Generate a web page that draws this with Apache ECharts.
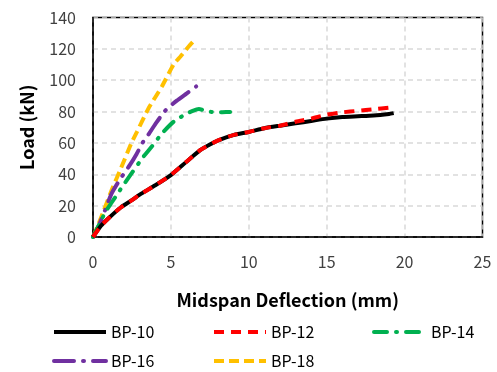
<!DOCTYPE html>
<html><head><meta charset="utf-8">
<script src="https://cdn.jsdelivr.net/npm/echarts@6/dist/echarts.min.js"></script>
<style>html,body{margin:0;padding:0;background:#fff}#c{width:497px;height:372px}</style>
</head><body><div id="c"></div>
<script>
const seriesNames = ['BP-10','BP-12','BP-14','BP-16','BP-18'];
const bp10 = [[0,0],[0.5,7],[1,12],[1.8,19],[2.5,23.5],[3,27],[4,33],[5,39.5],[6,48],[6.9,55.5],[7.5,59],[8,61.5],[9,65],[10,67],[11,69.4],[12,71],[13,72.5],[14,74],[15,75.5],[16,76.5],[17,77],[18,77.5],[19,78.5],[19.3,79]];
const bp12 = [[0,0],[0.5,7],[1,12],[1.8,19],[2.5,23.5],[3,27],[4,33],[5,39.5],[6,48],[6.9,55.5],[7.5,59],[8,61.5],[9,65],[10,67],[11,69.4],[12,71],[13,73.5],[14,75.5],[15,78],[16,79.5],[17,80.5],[18,81.5],[19,82.5],[19.4,83]];
const bp14 = [[0,0],[0.4,8],[0.8,16],[1.2,22],[1.51,26.6],[1.94,33],[2.54,41.5],[3.22,51],[3.76,57.5],[4.42,66],[5.17,73.5],[5.92,78.2],[6.4,80.5],[6.8,81.6],[7.3,80.3],[7.84,79.5],[8.3,79.6],[8.8,79.7]];
const bp16 = [[0,0],[0.4,8],[0.77,17],[1.19,27.7],[1.73,36.7],[2.37,46],[2.8,53],[3.22,60.7],[3.6,66],[4,72],[4.63,80.5],[5.38,87],[6,91.5],[6.62,96]];
const bp18 = [[0,0],[0.3,7],[0.66,16],[1.2,30],[1.8,44],[2.47,60],[2.82,67],[3.56,82],[4.42,96],[5.17,110],[5.6,115],[6.1,121],[6.56,126]];
const xTicks = [0,5,10,15,20,25];
const yTicks = [0,20,40,60,80,100,120,140];

const font = '"Noto Sans CJK KR","Noto Sans",sans-serif';
const chart = echarts.init(document.getElementById('c'));
const styles = [
  {color:'#000000', type:'solid', cap:'butt'},
  {color:'#ff0000', type:[10,7], cap:'butt'},
  {color:'#00b050', type:[13,9,1,9], cap:'round'},
  {color:'#7030a0', type:[20,9,1,9], cap:'round'},
  {color:'#ffc000', type:[10,5], cap:'butt'}
];
const datas = [bp10,bp12,bp14,bp16,bp18];
const legendPos = [[52,324],[212,324],[372,324],[52,353],[212,353]];
const opt = {
  animation:false,
  grid:{left:93, top:17.5, width:389.5, height:219.5, show:true, borderColor:'#000', borderWidth:1.5, containLabel:false},
  xAxis:{type:'value', min:xTicks[0], max:xTicks[xTicks.length-1], interval:5,
    name:'Midspan Deflection (mm)', nameLocation:'middle', nameGap:54,
    nameTextStyle:{fontFamily:font, fontSize:18, fontWeight:'bold', color:'#000'},
    axisLine:{show:true, lineStyle:{color:'#000', width:1.5}}, axisTick:{show:false},
    axisLabel:{fontFamily:font, fontSize:16, color:'#404040', margin:17},
    splitLine:{show:true, lineStyle:{color:'#d9d9d9', width:1.5, type:[5,4]}}},
  yAxis:{type:'value', min:yTicks[0], max:yTicks[yTicks.length-1], interval:20,
    name:'Load (kN)', nameLocation:'middle', nameGap:57, nameRotate:90,
    nameTextStyle:{fontFamily:font, fontSize:18, fontWeight:'bold', color:'#000'},
    axisLine:{show:true, lineStyle:{color:'#000', width:1.5}}, axisTick:{show:false},
    axisLabel:{fontFamily:font, fontSize:16, color:'#404040', margin:17},
    splitLine:{show:true, lineStyle:{color:'#d9d9d9', width:1.5, type:[5,4]}}},
  legend: seriesNames.map((n,i)=>({data:[n], left:legendPos[i][0], top:legendPos[i][1], padding:0,
    itemWidth:52, itemHeight:14, itemStyle:{opacity:0}, lineStyle:{width:4},
    textStyle:{fontFamily:font, fontSize:16, color:'#000'}})),
  series: seriesNames.map((n,i)=>({name:n, type:'line', data:datas[i], symbol:'none', smooth:0.2,
    z: 10-i, lineStyle:{color:styles[i].color, width:4, type:styles[i].type, cap:styles[i].cap},
    itemStyle:{color:styles[i].color}}))
};
opt.series[1].z = 11;
chart.setOption(opt);
</script></body></html>
